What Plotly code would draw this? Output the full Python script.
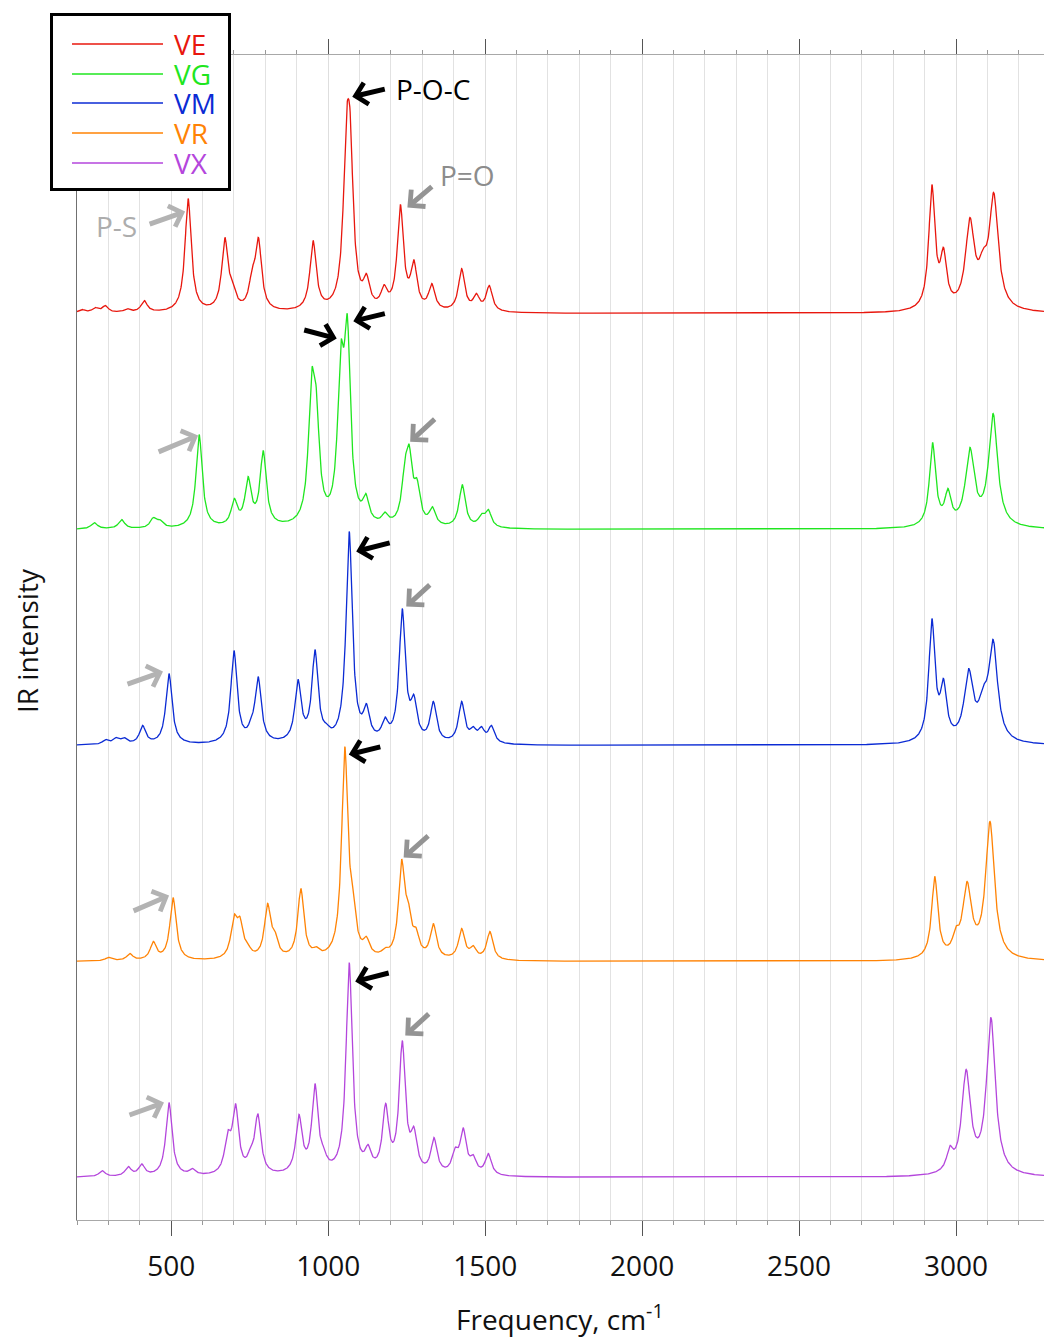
import numpy as np
import plotly.graph_objects as go

# ---------------- data ----------------
names = ["VE", "VG", "VM", "VR", "VX"]
colors = ["#e8170e", "#1fe61f", "#0b2bd4", "#ff8305", "#b446dc"]
offsets = [4, 3, 2, 1, 0]          # vertical stacking (units of one spectrum spacing)

# band centres (cm-1) and observed heights above baseline (relative units)
ve_freq = [215, 258, 290, 360, 414, 554, 671, 695, 758, 778, 952, 1058, 1070, 1122, 1178,
           1230, 1273, 1330, 1425, 1472, 1513, 2923, 2960, 3044, 3086, 3120]
ve_int = [0.019, 0.028, 0.037, 0.023, 0.060, 0.532, 0.352, 0.157, 0.213, 0.352, 0.338, 0.933,
          0.933, 0.185, 0.134, 0.505, 0.250, 0.139, 0.208, 0.093, 0.130, 0.597, 0.306, 0.444,
          0.301, 0.560]

vg_freq = [255, 342, 443, 464, 589, 701, 745, 793, 947, 962, 1040, 1061, 1120, 1181, 1244,
           1258, 1283, 1332, 1427, 1488, 1510, 2925, 2974, 3044, 3118]
vg_int = [0.032, 0.046, 0.056, 0.046, 0.440, 0.144, 0.245, 0.366, 0.741, 0.657, 0.870, 0.995,
          0.167, 0.081, 0.324, 0.394, 0.236, 0.106, 0.208, 0.074, 0.093, 0.403, 0.190, 0.380,
          0.537]

vm_freq = [291, 324, 350, 409, 493, 700, 755, 777, 904, 958, 995, 1067, 1122, 1181, 1236,
           1273, 1335, 1425, 1462, 1488, 1520, 2923, 2960, 3040, 3086, 3118]
vm_int = [0.028, 0.037, 0.037, 0.093, 0.333, 0.440, 0.130, 0.319, 0.306, 0.444, 0.102, 0.991,
          0.194, 0.132, 0.634, 0.236, 0.204, 0.204, 0.088, 0.088, 0.093, 0.588, 0.310, 0.356,
          0.278, 0.491]

vr_freq = [300, 368, 443, 506, 700, 719, 743, 807, 830, 913, 962, 1053, 1078, 1122, 1181,
           1234, 1255, 1280, 1335, 1425, 1462, 1515, 2932, 2999, 3035, 3108]
vr_int = [0.019, 0.037, 0.093, 0.296, 0.218, 0.208, 0.088, 0.269, 0.144, 0.338, 0.069, 0.995,
          0.347, 0.116, 0.065, 0.472, 0.282, 0.157, 0.176, 0.153, 0.074, 0.139, 0.394, 0.162,
          0.370, 0.648]

vx_freq = [280, 363, 406, 493, 568, 680, 705, 753, 776, 907, 958, 985, 1067, 1127, 1183,
           1236, 1273, 1337, 1404, 1430, 1462, 1510, 2980, 3032, 3111]
vx_int = [0.032, 0.051, 0.063, 0.347, 0.042, 0.218, 0.343, 0.144, 0.296, 0.292, 0.435, 0.144,
          0.995, 0.153, 0.343, 0.634, 0.236, 0.185, 0.139, 0.231, 0.106, 0.111, 0.148, 0.500,
          0.741]

freqs = [ve_freq, vg_freq, vm_freq, vr_freq, vx_freq]
ints = [ve_int, vg_int, vm_int, vr_int, vx_int]

# assigned bands pointed at by arrows
poc_freq = [1064, 1061, 1067, 1053, 1067]    # P-O-C stretch
poc_extra_vg = 1040                           # second P-O-C component of VG
po_freq = [1230, 1258, 1236, 1234, 1236]     # P=O stretch
ps_freq = [554, 589, 493, 506, 493]          # P-S stretch

x_ticks = [500, 1000, 1500, 2000, 2500, 3000]
x_range = [200, 3280]

HW_LOW, HW_HIGH = 12.0, 17.0                  # band half widths (cm-1)


def amplitudes(freq, height):
    f = np.asarray(freq, float)
    h = np.asarray(height, float)
    w = np.where(f >= 3000, HW_HIGH, HW_LOW)
    A = 1.0 / (1.0 + ((f[:, None] - f[None, :]) / w[None, :]) ** 2)
    a = h.copy()
    for _ in range(800):
        a = np.clip(a + 0.5 * (h - A @ a), 0, None)
    return f, a, w


grid = np.arange(x_range[0], x_range[1] + 0.5, 1.0)


def spectrum(freq, height):
    f, a, w = amplitudes(freq, height)
    return (a[None, :] / (1.0 + ((grid[:, None] - f[None, :]) / w[None, :]) ** 2)).sum(axis=1)


fig = go.Figure()
curves = []
for name, col, off, f, h in zip(names, colors, offsets, freqs, ints):
    s = spectrum(f, h) + off
    curves.append(s)
    fig.add_trace(go.Scatter(x=grid, y=s, mode="lines", name=name,
                             line=dict(color=col, width=1.3), showlegend=False,
                             hoverinfo="skip"))


def level(i, nu):
    j = int(np.argmin(np.abs(grid - nu)))
    return float(curves[i][max(j - 4, 0):j + 5].max())


# ---------------- layout geometry ----------------
W, H = 1044, 1342
ML, MR, MT, MB = 77, 0, 55, 122
PW, PH = W - ML - MR, H - MT - MB


def px_x(px):
    return (px - ML) / PW


def px_y(py):
    return (H - MB - py) / PH


FONT = "Open Sans"
annotations = []
shapes = []

# arrows: (freq, molecule index, colour, xshift, yshift, ax, ay)
BLACK, GREY, LGREY = "#000000", "#949494", "#b3b3b3"
arrow_specs = [
    (poc_freq[0], 0, BLACK, 4, 2, 34, -8),
    (po_freq[0], 0, GREY, 7, -3, 26, -22),
    (ps_freq[0], 0, LGREY, -3, -13, -37, 13),
    (poc_extra_vg, 1, BLACK, -4, 0, -34, -9),
    (poc_freq[1], 1, BLACK, 6, -8, 33, -8),
    (po_freq[1], 1, GREY, 1, 2, 26, -24),
    (ps_freq[1], 1, LGREY, -1, -1, -41, 17),
    (poc_freq[2], 2, BLACK, 7, -20, 35, -9),
    (po_freq[2], 2, GREY, 4, 2, 25, -23),
    (ps_freq[2], 2, LGREY, -6, 2, -37, 13),
    (poc_freq[3], 3, BLACK, 4, -8, 33, -8),
    (po_freq[3], 3, GREY, 2, 2, 26, -23),
    (ps_freq[3], 3, LGREY, -4, 2, -37, 16),
    (poc_freq[4], 4, BLACK, 6, -19, 35, -9),
    (po_freq[4], 4, GREY, 3, 5, 25, -23),
    (ps_freq[4], 4, LGREY, -5, 0, -36, 13),
]
for nu, i, col, xs, ys, ax, ay in arrow_specs:
    annotations.append(dict(x=nu, y=level(i, nu), xref="x", yref="y", text="",
                            showarrow=True, arrowhead=4, arrowsize=0.85, arrowwidth=5,
                            arrowcolor=col, ax=ax, ay=ay, axref="pixel", ayref="pixel",
                            xshift=xs, yshift=ys, standoff=0))

# band labels next to the VE arrows
annotations.append(dict(x=poc_freq[0], y=level(0, poc_freq[0]), xref="x", yref="y",
                        text="P-O-C", showarrow=False, xanchor="left", yanchor="middle",
                        xshift=46, yshift=10, font=dict(family=FONT, size=28, color="#000")))
annotations.append(dict(x=po_freq[0], y=level(0, po_freq[0]), xref="x", yref="y",
                        text="P=O", showarrow=False, xanchor="left", yanchor="middle",
                        xshift=38, yshift=29, font=dict(family=FONT, size=28, color="#8c8c8c")))
annotations.append(dict(x=ps_freq[0], y=level(0, ps_freq[0]), xref="x", yref="y",
                        text="P-S", showarrow=False, xanchor="right", yanchor="middle",
                        xshift=-49, yshift=-27, font=dict(family=FONT, size=28, color="#adadad")))

# legend drawn as a framed box
shapes.append(dict(type="rect", xref="paper", yref="paper",
                   x0=px_x(51.5), x1=px_x(229.5), y0=px_y(189.5), y1=px_y(14.5),
                   line=dict(color="#000", width=3), fillcolor="#fff", layer="above"))
row_y = [44, 74, 103, 133, 163]
for name, col, ry in zip(names, colors, row_y):
    shapes.append(dict(type="line", xref="paper", yref="paper",
                       x0=px_x(72), x1=px_x(163), y0=px_y(ry), y1=px_y(ry),
                       line=dict(color=col, width=1.5), layer="above"))
    annotations.append(dict(x=px_x(172), y=px_y(ry), xref="paper", yref="paper",
                            text=name, showarrow=False, xanchor="left", yanchor="middle",
                            font=dict(family=FONT, size=28, color=col)))

# axis titles
annotations.append(dict(x=px_x(560), y=px_y(1317), xref="paper", yref="paper",
                        text="Frequency, cm<sup>-1</sup>", showarrow=False,
                        xanchor="center", yanchor="middle",
                        font=dict(family=FONT, size=28, color="#111")))
annotations.append(dict(x=px_x(27), y=px_y(641), xref="paper", yref="paper",
                        text="IR intensity", showarrow=False, textangle=-90,
                        xanchor="center", yanchor="middle",
                        font=dict(family=FONT, size=28, color="#111")))

unit = 216.0  # px per stacking unit
y_lo = -(1220 - 1177.5) / unit
y_hi = y_lo + PH / unit

fig.update_layout(
    width=W, height=H,
    margin=dict(l=ML, r=MR, t=MT, b=MB, pad=0),
    paper_bgcolor="#fff", plot_bgcolor="#fff",
    showlegend=False,
    annotations=annotations, shapes=shapes,
    xaxis=dict(range=x_range, tickmode="array", tickvals=x_ticks,
               ticks="outside", ticklen=15, tickwidth=1, tickcolor="#555",
               showline=True, linecolor="#a8a8a8", linewidth=1, mirror="ticks",
               showgrid=True, gridcolor="#dedede", gridwidth=1, zeroline=False,
               tickfont=dict(family=FONT, size=28, color="#111"),
               ticklabelstandoff=6,
               minor=dict(dtick=100, tick0=0, showgrid=True, gridcolor="#e2e2e2",
                          gridwidth=1, ticks="outside", ticklen=4, tickcolor="#999")),
    yaxis=dict(range=[y_lo, y_hi], showticklabels=False, ticks="", showgrid=False,
               zeroline=False, showline=True, linecolor="#707070", linewidth=1),
)

fig.write_html("out.html")
